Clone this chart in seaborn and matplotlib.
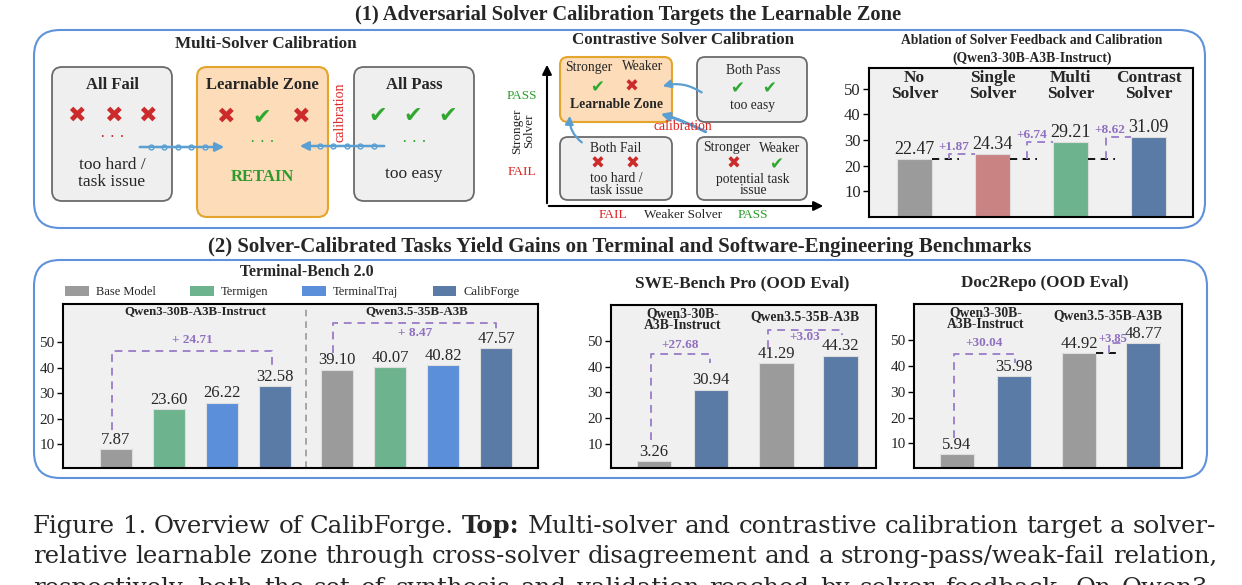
import matplotlib
matplotlib.use('Agg')
import matplotlib.pyplot as plt
from matplotlib.patches import FancyBboxPatch, FancyArrowPatch, Patch
import pandas as pd
import seaborn as sns

# values
ablation_setups = ['No\nSolver', 'Single\nSolver', 'Multi\nSolver', 'Contrast\nSolver']
ablation_scores = [22.47, 24.34, 29.21, 31.09]

tb_methods = ['Base Model', 'Termigen', 'TerminalTraj', 'CalibForge']
tb_qwen3 = [7.87, 23.60, 26.22, 32.58]
tb_qwen35 = [39.10, 40.07, 40.82, 47.57]

ood_methods = ['Base Model', 'CalibForge']
swe_qwen3 = [3.26, 30.94]
swe_qwen35 = [41.29, 44.32]
doc_qwen3 = [5.94, 35.98]
doc_qwen35 = [44.92, 48.77]

model_names = ['Qwen3-30B-A3B-Instruct', 'Qwen3.5-35B-A3B']
score_ticks = [10, 20, 30, 40, 50]

caption_lines = [
    'Figure 1. Overview of CalibForge. Top: Multi-solver and contrastive calibration target a solver-',
    'relative learnable zone through cross-solver disagreement and a strong-pass/weak-fail relation,',
    'respectively, both the set of synthesis and validation reached by solver feedback. On Qwen3-',
]
caption_bold = {'Top:'}

# colours
method_colors = {'Base Model': '#9b9b9b', 'Termigen': '#6db48e',
                 'TerminalTraj': '#5b8fd9', 'CalibForge': '#5a7ba6'}
ablation_colors = ['#9b9b9b', '#c98383', '#6db48e', '#5a7ba6']
PURPLE = '#a084cc'
PURPLE_TXT = '#8f6fc0'
RED = '#cc2b2b'
GREEN = '#2fa82f'
ARROW = '#5b9fd2'
GRAY_FC, GRAY_EC = '#efefef', '#6b6b6b'
ORANGE_FC, ORANGE_EC = '#fcdcb9', '#e3a52b'
FRAME = '#5f92da'
DASH = (0, (4, 3))
CAP_FONT = ['DejaVu Serif']

sns.set_style('ticks')
plt.rcParams['font.family'] = ['Liberation Serif', 'DejaVu Sans']

W, H = 1242, 585
fig = plt.figure(figsize=(W / 100, H / 100), dpi=100)

# background axes in pixel units (y down) for the diagrams and text
bg = fig.add_axes([0, 0, 1, 1])
bg.set_xlim(0, W)
bg.set_ylim(H, 0)
bg.axis('off')


def txt(x, y, s, size, **kw):
    kw.setdefault('ha', 'center')
    kw.setdefault('va', 'center')
    return bg.text(x, y, s, fontsize=size, **kw)


def rbox(x0, y0, x1, y1, fc, ec, r=10, lw=1.3):
    bg.add_patch(FancyBboxPatch((x0, y0), x1 - x0, y1 - y0,
                                boxstyle=f'round,pad=0,rounding_size={r}',
                                fc=fc, ec=ec, lw=lw))


def mark(x, y, ok, size=16):
    txt(x, y, '\u2714' if ok else '\u2716', size,
        color=GREEN if ok else RED, family='DejaVu Sans')


def bead_arrow(x0, x1, y):
    bg.annotate('', xy=(x1, y), xytext=(x0, y),
                arrowprops=dict(arrowstyle='-|>', color=ARROW, lw=1.8, mutation_scale=13))
    for f in (0.15, 0.3, 0.45, 0.6, 0.75):
        bg.plot(x0 + (x1 - x0) * f, y, 'o', ms=3.5, mfc='white', mec=ARROW, mew=1)


def curve_arrow(p0, p1, rad, lw=1.6):
    bg.add_patch(FancyArrowPatch(p0, p1, connectionstyle=f'arc3,rad={rad}',
                                 arrowstyle='-|>', mutation_scale=12, color=ARROW, lw=lw))


# ---------------- section frames and headings ----------------
txt(628, 15, '(1) Adversarial Solver Calibration Targets the Learnable Zone', 14.8, weight='bold')
rbox(34, 30, 1205, 228, 'none', FRAME, r=26, lw=1.5)
txt(620, 247, '(2) Solver-Calibrated Tasks Yield Gains on Terminal and Software-Engineering Benchmarks',
    15, weight='bold')
rbox(34, 260, 1207, 478, 'none', FRAME, r=26, lw=1.5)

# ---------------- multi-solver calibration ----------------
txt(266, 44, 'Multi-Solver Calibration', 12.3, weight='bold')
rbox(52, 67, 172, 201, GRAY_FC, GRAY_EC)
rbox(197, 67, 328, 217, ORANGE_FC, ORANGE_EC, lw=1.5)
rbox(354, 67, 474, 201, GRAY_FC, GRAY_EC)

txt(112, 85, 'All Fail', 12, weight='bold')
for x in (76, 113, 147):
    mark(x, 116, False)
txt(112, 138, '\u00b7 \u00b7 \u00b7', 12, color=RED)
txt(112, 165, 'too hard /', 12.5)
txt(112, 182, 'task issue', 12.5)

txt(262, 85, 'Learnable Zone', 12, weight='bold')
mark(225, 117, False)
mark(262, 118, True)
mark(300, 117, False)
txt(262, 143, '\u00b7 \u00b7 \u00b7', 12, color=GREEN)
txt(262, 177, 'RETAIN', 12, weight='bold', color='#2e9a2e')

txt(414, 85, 'All Pass', 12, weight='bold')
for x in (378, 413, 448):
    mark(x, 116, True)
txt(414, 143, '\u00b7 \u00b7 \u00b7', 12, color=GREEN)
txt(414, 174, 'too easy', 12.5)
txt(340, 112, 'calibration', 10, color='#dd2222', rotation=90)

bead_arrow(137, 227, 147)
bead_arrow(387, 297, 146)

# ---------------- contrastive solver calibration ----------------
txt(683, 40, 'Contrastive Solver Calibration', 12.2, weight='bold')
bg.annotate('', xy=(547, 62), xytext=(547, 206),
            arrowprops=dict(arrowstyle='-|>', color='black', lw=1.5, mutation_scale=14))
bg.annotate('', xy=(826, 206), xytext=(546, 206),
            arrowprops=dict(arrowstyle='-|>', color='black', lw=1.5, mutation_scale=14))
txt(522, 96, 'PASS', 9.5, color='#2a9d2a')
txt(523, 131, 'Stronger\nSolver', 9.5, rotation=90, linespacing=1.0)
txt(522, 172, 'FAIL', 9.5, color='#dd2222')
txt(613, 215, 'FAIL', 9.5, color='#dd2222')
txt(683, 215, 'Weaker Solver', 9.5)
txt(753, 215, 'PASS', 9.5, color='#2a9d2a')

rbox(560, 57, 672, 122, ORANGE_FC, ORANGE_EC, r=8, lw=1.5)
txt(589, 67, 'Stronger', 9.8)
txt(643, 67, 'Weaker', 9.8)
mark(597, 87, True, 12)
mark(632, 87, False, 12)
txt(616, 105, 'Learnable Zone', 9.8, weight='bold')

rbox(697, 57, 807, 122, GRAY_FC, GRAY_EC, r=8)
txt(753, 71, 'Both Pass', 9.8)
mark(737, 88, True, 12)
mark(769, 88, True, 12)
txt(753, 105, 'too easy', 9.8)

rbox(560, 137, 672, 200, GRAY_FC, GRAY_EC, r=8)
txt(616, 148, 'Both Fail', 9.8)
mark(598, 164, False, 12)
mark(633, 164, False, 12)
txt(616, 179, 'too hard /', 9.8)
txt(616, 191, 'task issue', 9.8)

rbox(697, 137, 807, 200, GRAY_FC, GRAY_EC, r=8)
txt(727, 148, 'Stronger', 9.8)
txt(780, 148, 'Weaker', 9.8)
mark(734, 164, False, 12)
mark(776, 164, True, 12)
txt(753, 180, 'potential task', 9.8)
txt(753, 191, 'issue', 9.8)

curve_arrow((704, 94), (660, 87), 0.25)
curve_arrow((584, 144), (570, 113), -0.3)
curve_arrow((708, 133), (658, 113), 0.05, lw=2.2)
txt(683, 127, 'calibration', 9.8, color='#dd2222')


# ---------------- chart helpers ----------------
def chart_ax(x0, y0, x1, y1):
    return fig.add_axes([x0 / W, 1 - y1 / H, (x1 - x0) / W, (y1 - y0) / H])


def style_chart(ax, xlim, ylim, tick_size):
    ax.set_facecolor('#f0f0f0')
    ax.set_xlim(*xlim)
    ax.set_ylim(*ylim)
    ax.set_xticks([])
    ax.set_yticks(score_ticks)
    ax.set_xlabel('')
    ax.set_ylabel('')
    ax.tick_params(axis='y', length=4, width=1, labelsize=tick_size, pad=2, color='black')
    for sp in ax.spines.values():
        sp.set_visible(True)
        sp.set_color('black')
        sp.set_linewidth(1.5)


def label_bars(ax, size):
    for c in ax.containers:
        ax.bar_label(c, fmt='%.2f', padding=1, fontsize=size)


def bracket(ax, x0, x1, y0, ytop, y1, label, ly, size=9.5):
    ax.plot([x0, x0, x1, x1], [y0, ytop, ytop, y1], ls=DASH, color=PURPLE, lw=1.4)
    ax.text((x0 + x1) / 2, ly, label, color=PURPLE_TXT, fontsize=size,
            weight='bold', ha='center', va='center')


def step_gain(ax, x_left_edge, x_mid, x_right_edge, base, value, label, lx, ly, size=9.5):
    ax.plot([x_left_edge, x_mid + 0.12], [base, base], ls=DASH, color='black', lw=1.3)
    ax.plot([x_mid, x_mid, x_right_edge], [base, value, value], ls=DASH, color=PURPLE, lw=1.4)
    ax.text(lx, ly, label, color=PURPLE_TXT, fontsize=size, weight='bold',
            ha='center', va='center')


# ---------------- ablation chart ----------------
ax_ab = chart_ax(869, 68, 1193, 217)
sns.barplot(x=ablation_setups, y=ablation_scores, hue=ablation_setups,
            palette=ablation_colors, width=0.45, saturation=1, legend=False,
            errorbar=None, ax=ax_ab, edgecolor='#dedede', linewidth=0.8)
style_chart(ax_ab, (-0.58, 3.57), (0, 58), 12)
label_bars(ax_ab, 13)
for i, name in enumerate(ablation_setups):
    ax_ab.text(i, 51, name, ha='center', va='center', fontsize=12.5,
               weight='bold', linespacing=0.95)
base = ablation_scores[0]
for i in range(1, len(ablation_scores)):
    v = ablation_scores[i]
    step_gain(ax_ab, i - 1 + 0.225, i - 0.55, i - 0.225, base, v,
              f'+{v - base:.2f}', i - 0.5, v + 2.8)
txt(1032, 40, 'Ablation of Solver Feedback and Calibration', 9.8, weight='bold')
txt(1032, 58, '(Qwen3-30B-A3B-Instruct)', 9.8, weight='bold')

# ---------------- Terminal-Bench 2.0 ----------------
tb_pos = [0, 1, 2, 3, 4.17, 5.17, 6.17, 7.17]
tb_df = pd.DataFrame({'pos': tb_pos, 'score': tb_qwen3 + tb_qwen35,
                      'method': tb_methods * 2})
ax_tb = chart_ax(63, 304, 538, 468)
sns.barplot(data=tb_df, x='pos', y='score', hue='method', palette=method_colors,
            native_scale=True, width=0.6, dodge=False, saturation=1, legend=False,
            errorbar=None, ax=ax_tb, edgecolor='#dedede', linewidth=0.8)
style_chart(ax_tb, (-1.0, 7.96), (0.6, 64.9), 11)
label_bars(ax_tb, 12)
ax_tb.axvline(3.585, color='#999999', ls=DASH, lw=1.2)
ax_tb.text(1.5, 62.2, model_names[0], ha='center', va='center', fontsize=9.3, weight='bold')
ax_tb.text(5.67, 62.2, model_names[1], ha='center', va='center', fontsize=9.3, weight='bold')
bracket(ax_tb, -0.07, 2.95, tb_qwen3[0] + 7.8, tb_qwen3[3] + 14, tb_qwen3[3] + 8.3,
        f'+ {tb_qwen3[3] - tb_qwen3[0]:.2f}', tb_qwen3[3] + 18.3)
bracket(ax_tb, 4.1, 7.17, tb_qwen35[0] + 6.5, tb_qwen35[3] + 9.8, tb_qwen35[3] + 6.6,
        f'+ {tb_qwen35[3] - tb_qwen35[0]:.2f}', tb_qwen35[3] + 5.9)
txt(307, 272, 'Terminal-Bench 2.0', 11.4, weight='bold')
handles = [Patch(fc=method_colors[m], ec='none') for m in tb_methods]
fig.legend(handles, tb_methods, loc='center left', bbox_to_anchor=(65 / W, 1 - 292 / H),
           ncol=4, frameon=False, fontsize=9, handlelength=1.9, handleheight=0.8,
           handletextpad=0.55, columnspacing=2.75, borderpad=0, borderaxespad=0)

# ---------------- OOD charts ----------------
ood_pos = [0, 1, 2.15, 3.27]


def ood_chart(box, xlim, qwen3, qwen35):
    df = pd.DataFrame({'pos': ood_pos, 'score': qwen3 + qwen35,
                       'method': ood_methods * 2})
    ax = chart_ax(*box)
    sns.barplot(data=df, x='pos', y='score', hue='method', palette=method_colors,
                native_scale=True, width=0.6, dodge=False, saturation=1, legend=False,
                errorbar=None, ax=ax, edgecolor='#dedede', linewidth=0.8)
    style_chart(ax, xlim, (0.5, 64), 11)
    label_bars(ax, 12)
    ax.text(0.5, 58.3, 'Qwen3-30B-\nA3B-Instruct', ha='center', va='center', fontsize=9.8,
            weight='bold', linespacing=0.95)
    ax.text(2.65, 59.5, model_names[1], ha='center', va='center', fontsize=9.8, weight='bold')
    return ax


ax_swe = ood_chart((611, 305, 876, 468), (-0.75, 3.89), swe_qwen3, swe_qwen35)
bracket(ax_swe, -0.05, 0.98, swe_qwen3[0] + 8, swe_qwen3[1] + 14, swe_qwen3[1] + 10.4,
        f'+{swe_qwen3[1] - swe_qwen3[0]:.2f}', swe_qwen3[1] + 17.3)
bracket(ax_swe, 2.0, 3.3, swe_qwen35[0] + 5.8, swe_qwen35[1] + 9.8, swe_qwen35[1] + 7.9,
        f'+{swe_qwen35[1] - swe_qwen35[0]:.2f}', swe_qwen35[1] + 7.1)
txt(742, 283, 'SWE-Bench Pro (OOD Eval)', 12.4, weight='bold')

ax_doc = ood_chart((914, 304, 1182, 468), (-0.75, 3.95), doc_qwen3, doc_qwen35)
bracket(ax_doc, -0.05, 1.02, doc_qwen3[0] + 6.2, doc_qwen3[1] + 8.8, doc_qwen3[1] + 5.3,
        f'+{doc_qwen3[1] - doc_qwen3[0]:.2f}', doc_qwen3[1] + 13)
step_gain(ax_doc, 2.45, 2.67, 2.97, doc_qwen35[0], doc_qwen35[1],
          f'+{doc_qwen35[1] - doc_qwen35[0]:.2f}', 2.74, doc_qwen35[1] + 1.6, size=9)
txt(1045, 283, 'Doc2Repo (OOD Eval)', 12.3, weight='bold')

# ---------------- caption (justified lines) ----------------
renderer = fig.canvas.get_renderer()
CAP_X0, CAP_X1 = 33, 1216


def caption_words(y, line, size):
    return [txt(0, y, w, size, ha='left', va='baseline', family=CAP_FONT,
                weight='bold' if w in caption_bold else 'normal')
            for w in line.split(' ')]


def word_widths(words):
    return [t.get_window_extent(renderer).width for t in words]


base_size = 20
rows = [caption_words(533 + 30 * k + (2 if k == 2 else 0), line, base_size)
        for k, line in enumerate(caption_lines)]
space = 0.318 * base_size * 100 / 72
fits = [(CAP_X1 - CAP_X0) / (sum(word_widths(r)) + space * (len(r) - 1)) for r in rows[:2]]
cap_size = min(18.0, base_size * min(fits))
min_gap = 0.318 * cap_size * 100 / 72
for r in rows:
    for t in r:
        t.set_fontsize(cap_size)
    widths = word_widths(r)
    gap = max(min_gap, (CAP_X1 - CAP_X0 - sum(widths)) / (len(r) - 1))
    x = CAP_X0
    for t, w in zip(r, widths):
        t.set_x(x)
        x += w + gap

fig.savefig('out.png', dpi=100)
